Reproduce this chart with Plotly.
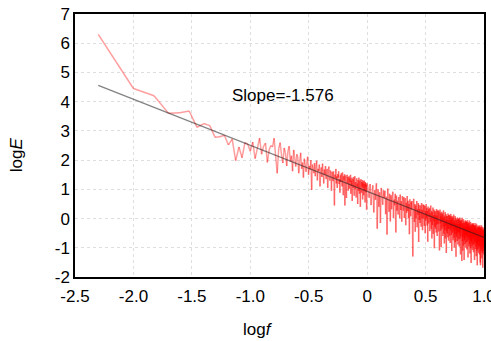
import numpy as np
import plotly.graph_objects as go

# ---- data ----
df_low = 0.005                     # frequency resolution of the low band
k_low = np.arange(1, 201)          # frequency indices, f = 0.005 .. 1.0
logE_low = [
    6.30, 4.45, 4.20, 3.60, 3.62, 3.68, 3.12, 3.25, 3.18, 2.78,
    2.80, 2.85, 2.52, 2.72, 1.98, 2.45, 2.08, 2.60, 2.55, 2.30,
    2.62, 2.05, 2.40, 2.75, 2.20, 2.48, 2.58, 1.92, 2.35, 2.50,
    2.45, 2.75, 2.10, 1.55, 2.38, 2.60, 2.18, 1.90, 2.42, 2.25,
    1.80, 2.30, 2.48, 1.95, 2.15, 1.62, 2.35, 2.05, 1.78, 2.20,
    2.10, 1.55, 1.98, 2.25, 1.70, 1.92, 1.40, 2.05, 1.85, 1.60,
    1.95, 2.12, 1.50, 1.80, 1.68, 2.00, 0.98, 1.85, 1.72, 1.55,
    1.90, 1.45, 1.78, 1.98, 1.30, 1.70, 1.62, 1.85, 1.10, 1.58,
    1.75, 1.42, 1.88, 1.60, 1.20, 1.68, 1.50, 1.80, 1.35, 1.62,
    1.70, 1.05, 1.55, 1.78, 1.40, 1.30, 1.65, 1.48, 0.95, 1.60,
    1.55, 1.28, 1.62, 1.15, 0.45, 1.50, 1.38, 1.70, 1.20, 1.45,
    1.05, 1.52, 1.40, 1.62, 1.18, 1.35, 0.88, 1.48, 1.25, 1.55,
    1.40, 1.10, 1.58, 1.22, 0.80, 1.45, 1.30, 1.52, 0.45, 1.38,
    1.48, 1.15, 0.70, 1.35, 1.50, 1.20, 1.42, 0.95, 1.28, 1.45,
    1.02, 1.38, 1.25, 1.50, 0.85, 1.30, 1.12, 1.40, 0.60, 1.22,
    1.35, 1.05, 1.42, 1.18, 0.78, 1.30, 1.45, 1.00, 1.25, 1.10,
    0.72, 1.28, 1.38, 1.08, 1.20, 0.50, 1.32, 1.15, 0.95, 1.40,
    1.12, 0.85, 1.30, 1.22, 0.40, 1.18, 1.35, 1.02, 0.88, 1.25,
    1.10, 1.32, 0.65, 1.20, 1.05, 1.28, 0.80, 1.15, 1.30, 0.95,
    1.18, 0.55, 1.25, 1.08, 1.22, 0.90, 1.15, 0.30, 1.12, 1.20,
]
df_high = 0.02                     # frequency resolution of the high band
k_high = np.arange(51, 501)        # f = 1.02 .. 10.0
logE_high = [
    1.06, 0.71, 1.18, 0.46, 0.91, 1.14, 0.21, 0.98, 0.64, 1.21,
    -0.35, 1.00, 0.40, 0.90, -0.15, 1.05, 0.77, 0.47, 0.97, 0.70,
    0.95, 0.15, 0.75, -0.55, 1.03, 0.57, 0.23, 0.85, -0.10, 0.80,
    0.32, 0.75, 0.92, 0.02, 0.65, 0.45, 0.85, -0.48, 0.79, 0.27,
    0.61, 0.14, 0.74, 0.54, 0.01, 0.82, 0.29, 0.59, -0.11, 0.77,
    0.62, 0.27, 0.74, 0.02, 0.47, 0.70, -0.23, 0.54, 0.20, 0.77,
    0.26, 0.61, 0.01, 0.51, -0.54, 0.66, 0.38, 0.08, 0.58, 0.31,
    0.60, -0.20, -1.30, 0.12, 0.68, 0.22, -0.12, 0.50, -0.45, 0.45,
    0.00, 0.43, 0.60, -0.30, 0.33, 0.13, 0.53, -0.80, 0.47, -0.05,
    0.32, -0.15, 0.45, 0.25, -0.28, 0.53, 0.00, 0.30, -0.40, 0.48,
    0.35, 0.00, 0.47, -0.25, 0.20, 0.43, -0.50, 0.27, -0.07, 0.50,
    0.01, 0.36, -0.24, 0.26, -0.79, 0.41, 0.13, -0.17, 0.33, 0.06,
    0.37, -0.43, 0.17, -0.11, 0.45, -0.01, -0.35, 0.27, -0.68, 0.22,
    -0.22, 0.21, 0.38, -0.52, 0.11, -0.09, 0.31, -1.02, 0.25, -0.27,
    0.12, -0.35, 0.25, 0.05, -0.48, 0.33, -0.20, 0.10, -0.60, 0.28,
    0.16, -0.19, 0.28, -0.44, 0.01, 0.24, -0.69, -1.09, -0.26, 0.31,
    -0.17, 0.18, -0.42, 0.08, -0.97, 0.23, -0.05, -0.35, 0.15, -0.12,
    0.20, -0.60, 0.00, -0.28, 0.28, -0.18, -0.52, 0.10, -0.85, 0.05,
    -0.38, 0.05, 0.22, -0.68, -0.05, -0.25, 0.15, -1.18, 0.09, -0.43,
    -0.04, -0.51, 0.09, -0.11, -0.64, 0.17, -0.36, -0.06, -0.76, 0.12,
    0.01, -0.34, 0.13, -0.59, -0.14, 0.09, -0.84, -0.07, -0.41, 0.16,
    -0.31, 0.04, -0.56, -0.06, -1.11, 0.09, -0.19, -0.49, 0.01, -0.26,
    0.06, -0.74, -0.14, -0.42, 0.14, -0.32, -0.66, -0.04, -0.99, -0.09,
    -0.51, -0.08, 0.09, -0.81, -0.18, -0.38, 0.02, -1.31, -0.04, -0.56,
    -0.17, -0.64, -0.04, -0.24, -0.77, 0.04, -0.49, -0.19, -0.89, -0.01,
    -0.11, -0.46, 0.01, -0.71, -0.26, -0.03, -0.96, -0.19, -0.53, 0.04,
    -0.43, -0.08, -0.68, -0.18, -1.23, -0.03, -0.31, -0.61, -0.11, -0.38,
    -0.05, -0.85, -1.45, -0.53, 0.03, -0.43, -0.77, -0.15, -1.10, -0.20,
    -0.62, -0.19, -0.02, -0.92, -0.29, -0.49, -0.09, -1.42, -0.15, -0.67,
    -0.27, -0.74, -0.14, -0.34, -0.87, -0.06, -0.59, -0.29, -0.99, -0.11,
    -0.21, -0.56, -0.09, -0.81, -0.36, -0.13, -1.06, -0.29, -0.63, -0.06,
    -0.53, -0.18, -0.78, -0.28, -1.33, -0.13, -0.41, -0.71, -0.21, -0.48,
    -0.15, -0.95, -0.35, -0.63, -0.07, -0.53, -0.87, -0.25, -1.20, -0.30,
    -0.72, -0.29, -0.12, -1.02, -0.39, -0.59, -0.19, -1.52, -0.25, -0.77,
    -0.36, -0.83, -0.23, -0.43, -0.96, -0.15, -0.68, -0.38, -1.08, -0.20,
    -0.30, -0.65, -0.18, -0.90, -0.45, -0.22, -1.15, -0.38, -0.72, -0.15,
    -0.62, -0.27, -0.87, -0.37, -1.42, -0.22, -0.50, -0.80, -0.30, -0.57,
    -0.24, -1.04, -0.44, -0.72, -0.16, -0.62, -0.96, -0.34, -1.29, -0.39,
    -0.80, -0.37, -0.20, -1.10, -0.47, -0.67, -0.27, -1.60, -0.33, -0.85,
    -0.45, -0.92, -0.32, -0.52, -1.05, -0.24, -0.77, -0.47, -1.17, -0.29,
    -0.38, -0.73, -0.26, -0.98, -0.53, -0.30, -1.23, -0.46, -0.80, -0.23,
    -0.70, -0.35, -0.95, -0.45, -1.50, -0.30, -1.60, -0.88, -0.38, -0.65,
    -0.31, -1.11, -0.51, -0.79, -0.23, -0.69, -1.03, -0.41, -1.36, -0.46,
    -0.88, -0.45, -0.28, -1.18, -0.55, -0.75, -0.35, -1.68, -0.41, -0.93,
    -0.52, -0.99, -0.39, -0.59, -1.12, -0.31, -0.84, -0.54, -1.24, -0.36,
]
fit_slope = -1.576
fit_intercept = 0.93
fit_logf_ends = [-2.301, 1.0]
slope_label = "Slope=-1.576"

x_ticks = [-2.5, -2.0, -1.5, -1.0, -0.5, 0, 0.5, 1.0]
x_ticklabels = ["-2.5", "-2.0", "-1.5", "-1.0", "-0.5", "0", "0.5", "1.0"]
y_ticks = [-2, -1, 0, 1, 2, 3, 4, 5, 6, 7]
y_ticklabels = [str(v) for v in y_ticks]

# ---- figure ----
logf = np.log10(np.concatenate([df_low * k_low, df_high * k_high]))
logE = np.array(logE_low + logE_high)

fig = go.Figure()
red = "rgba(255,0,0,0.38)"
for s in range(len(logf) - 1):
    fig.add_trace(go.Scatter(
        x=logf[s:s + 2], y=logE[s:s + 2], mode="lines",
        line=dict(color=red, width=1.5), showlegend=False, hoverinfo="skip"))

fx = np.array(fit_logf_ends)
fig.add_trace(go.Scatter(
    x=fx, y=fit_intercept + fit_slope * fx, mode="lines",
    line=dict(color="rgba(30,30,30,0.55)", width=1.3), showlegend=False))

font = "Arial, Liberation Sans, sans-serif"
fs = 17
fig.add_annotation(x=-0.72, y=4.2, text=slope_label, showarrow=False,
                   font=dict(family=font, size=fs, color="black"))
fig.add_annotation(xref="paper", yref="paper", x=0.447, y=-0.2,
                   xanchor="center", yanchor="middle",
                   text="log<i>f</i>", showarrow=False,
                   font=dict(family=font, size=fs, color="black"))
fig.add_annotation(xref="paper", yref="paper", x=-0.143, y=0.465,
                   xanchor="center", yanchor="middle",
                   text="log<i>E</i>", textangle=-90, showarrow=False,
                   font=dict(family=font, size=fs, color="black"))

axis_common = dict(showline=True, mirror=True, linecolor="black", linewidth=1.5,
                   showgrid=True, gridcolor="#dedede", griddash="dot", gridwidth=1,
                   zeroline=False, ticks="", ticklabeloverflow="allow", automargin=False,
                   tickfont=dict(family=font, size=fs, color="black"))
fig.update_xaxes(range=[-2.5, 1.0], tickvals=x_ticks, ticktext=x_ticklabels,
                 ticklabelstandoff=3, **axis_common)
fig.update_yaxes(range=[-2, 7], tickvals=y_ticks, ticktext=y_ticklabels, **axis_common)

fig.update_layout(width=491, height=341, margin=dict(l=75, r=7, t=14, b=64),
                  plot_bgcolor="white", paper_bgcolor="white",
                  font=dict(family=font, color="black"))
fig.write_html("out.html")
